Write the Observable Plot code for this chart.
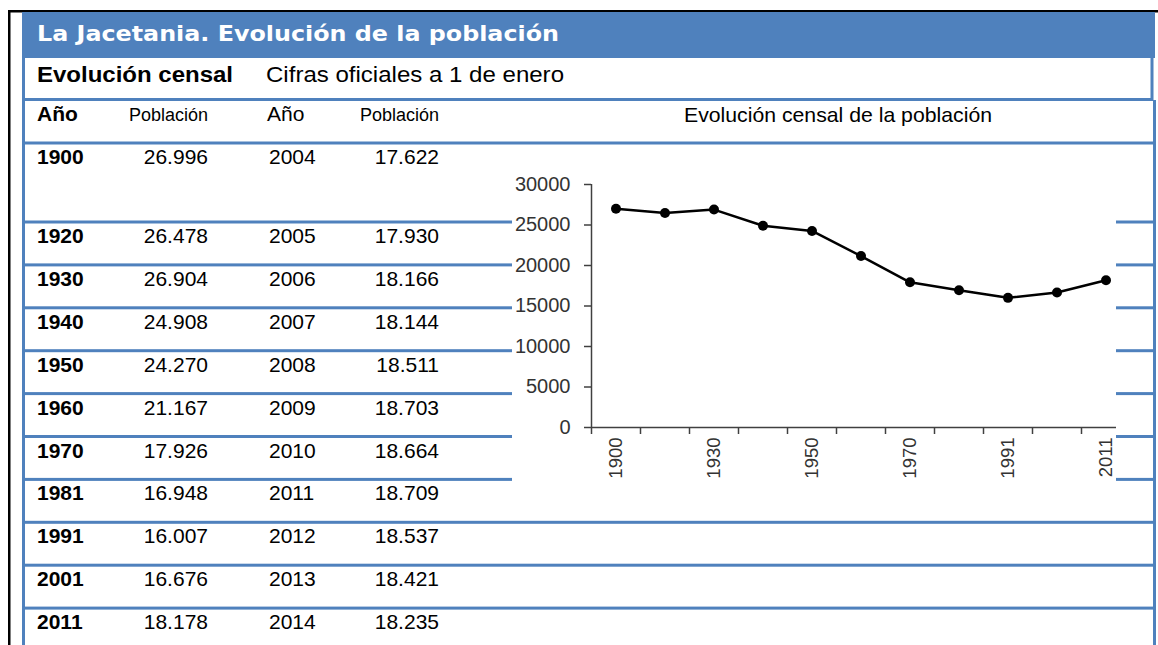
<!DOCTYPE html>
<html><head><meta charset="utf-8">
<script src="https://cdn.jsdelivr.net/npm/d3@7"></script>
<script src="https://cdn.jsdelivr.net/npm/@observablehq/plot@0.6"></script>
<style>
html,body{margin:0;padding:0;background:#fff;}
#page{position:relative;width:1158px;height:645px;overflow:hidden;background:#fff;}
#bg{position:absolute;left:0;top:0;}
#chart{position:absolute;left:512px;top:145px;}
#chart svg{overflow:hidden;}
</style></head>
<body>
<div id="page"><svg id="bg" width="1158" height="645"></svg><div id="chart"></div></div>
<script>
// ---- data ----
const title = "La Jacetania. Evolución de la población";
const subtitleBold = "Evolución censal";
const subtitle = "Cifras oficiales a 1 de enero";
const colHeaders = ["Año", "Población", "Año", "Población"];
const chartTitle = "Evolución censal de la población";
const censusYears = ["1900","1920","1930","1940","1950","1960","1970","1981","1991","2001","2011"];
const censusPop = [26996,26478,26904,24908,24270,21167,17926,16948,16007,16676,18178];
const recentYears = ["2004","2005","2006","2007","2008","2009","2010","2011","2012","2013","2014"];
const recentPop = [17622,17930,18166,18144,18511,18703,18664,18709,18537,18421,18235];
const yTicks = [0,5000,10000,15000,20000,25000,30000];
const xLabelYears = ["1900","1930","1950","1970","1991","2011"];

// ---- background table ----
const BLUE = "#4F81BD";
const SANS = "'Liberation Sans', Arial, sans-serif";
const fmt = d3.formatLocale({decimal: ",", thousands: ".", grouping: [3], currency: ["", ""]}).format(",d");
const svg = d3.select("#bg");
function rect(x, y, w, h, fill) {
  svg.append("rect").attr("x", x).attr("y", y).attr("width", w).attr("height", h).attr("fill", fill);
}
function txt(x, y, s, o = {}) {
  const t = svg.append("text").attr("x", x).attr("y", y).text(s)
    .attr("font-family", o.family || SANS).attr("font-size", o.size || 21)
    .attr("font-weight", o.bold ? "bold" : "normal")
    .attr("fill", o.fill || "#000").attr("text-anchor", o.anchor || "start");
  if (o.len) t.attr("textLength", o.len).attr("lengthAdjust", "spacingAndGlyphs");
  return t;
}
// black frame
rect(8, 10, 1150, 2.5, "#000");
rect(8, 10, 2.5, 635, "#000");
// blue header
rect(22, 12, 1133, 46, BLUE);
txt(37, 41, title, {family: "'DejaVu Sans', Verdana, sans-serif", size: 22, bold: true, fill: "#fff", len: 522});
// subtitle row
txt(37, 82, subtitleBold, {size: 22, bold: true, len: 196});
txt(266, 82, subtitle, {size: 22, len: 298});
rect(22, 98, 1131, 3, BLUE);
// verticals
rect(22, 12, 3, 633, BLUE);
rect(1150.5, 58, 3, 42, BLUE);
rect(1153, 100, 3, 545, BLUE);
// header row
txt(37, 121, colHeaders[0], {bold: true});
txt(208, 121, colHeaders[1], {size: 18, anchor: "end"});
txt(267, 121, colHeaders[2]);
txt(439, 121, colHeaders[3], {size: 18, anchor: "end"});
txt(838, 122, chartTitle, {size: 21, anchor: "middle", len: 308});
rect(22, 141.5, 1134, 3, BLUE);
// data rows
censusYears.forEach((yr, i) => {
  const top = i === 0 ? 143 : 222 + (i - 1) * 42.9;
  if (i > 0) rect(22, top - 1.5, 1134, 3, BLUE);
  const b = top + 21;
  txt(37, b, yr, {bold: true});
  txt(208, b, fmt(censusPop[i]), {anchor: "end"});
  txt(269, b, recentYears[i]);
  txt(439, b, fmt(recentPop[i]), {anchor: "end"});
});

// ---- chart ----
const data = censusYears.map((year, i) => ({i, year, pop: censusPop[i]}));
const edges = censusYears.map((_, i) => i - 0.5);
const labelIdx = censusYears.map((_, i) => i).filter(i => xLabelYears.includes(censusYears[i]));
const AX = "#404040";
const chart = Plot.plot({
  width: 604, height: 337,
  marginLeft: 79, marginRight: 0, marginTop: 39, marginBottom: 55,
  style: {background: "white", fontFamily: SANS, color: "#333"},
  x: {type: "linear", domain: [-0.5, censusYears.length - 0.5], range: [79, 79 + 49 * censusYears.length]},
  y: {domain: [0, 30000]},
  marks: [
    Plot.ruleX([-0.5], {stroke: AX, strokeWidth: 1.5}),
    Plot.ruleY([0], {stroke: AX, strokeWidth: 1.5}),
    Plot.axisY({ticks: yTicks, tickSize: 7, tickPadding: 14, tickFormat: d => String(d), fontSize: 20, stroke: AX, strokeWidth: 1.5, label: null}),
    Plot.axisX({ticks: edges, tickSize: 7, tickFormat: () => "", stroke: AX, strokeWidth: 1.5, label: null}),
    Plot.axisX({ticks: labelIdx, tickSize: 0, tickPadding: 10, tickRotate: -90, tickFormat: i => censusYears[i], fontSize: 18.5, label: null}),
    Plot.line(data, {x: "i", y: "pop", stroke: "#000", strokeWidth: 2.5}),
    Plot.dot(data, {x: "i", y: "pop", r: 5, fill: "#000"})
  ]
});
document.getElementById("chart").appendChild(chart);
</script>
</body></html>
